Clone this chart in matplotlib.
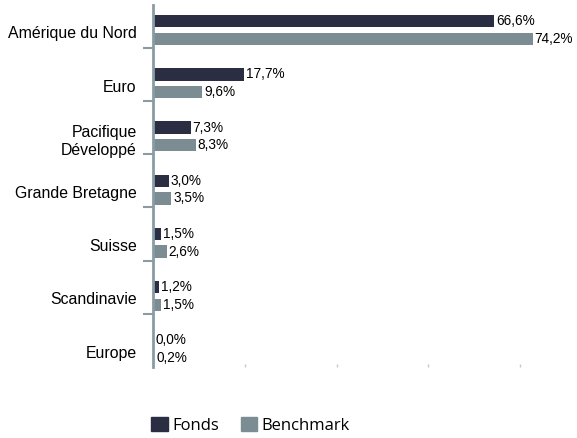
import matplotlib
matplotlib.use("Agg")
import matplotlib.pyplot as plt
from matplotlib.patches import Patch

# data (top to bottom in the picture)
categories = ["Amérique du Nord", "Euro", "Pacifique\nDéveloppé", "Grande Bretagne",
              "Suisse", "Scandinavie", "Europe"]
fonds = [66.6, 17.7, 7.3, 3.0, 1.5, 1.2, 0.0]
benchmark = [74.2, 9.6, 8.3, 3.5, 2.6, 1.5, 0.2]

dark = "#2b2d42"
grey = "#7b8d93"
axis_col = "#8a9ca2"

plt.rcParams["font.family"] = ["Liberation Sans", "DejaVu Sans"]

fig = plt.figure(figsize=(5.77, 4.38), dpi=100)
ax = fig.add_axes([153.3 / 577, 1 - 367 / 438, 0.70, 362 / 438])

n = len(categories)
pos = [n - 1 - i for i in range(n)]
h = 0.235
off = 0.33

ax.barh(pos, fonds, height=h, color=dark)
ax.barh([p - off for p in pos], benchmark, height=h, color=grey)

for p, v in zip(pos, fonds):
    ax.text(v + 0.4, p, f"{v:.1f}%".replace(".", ","), va="center", ha="left", fontsize=9.8)
for p, v in zip(pos, benchmark):
    ax.text(v + 0.4, p - off, f"{v:.1f}%".replace(".", ","), va="center", ha="left", fontsize=9.8)

ax.set_xlim(0, 79)
ax.set_ylim(-0.5, -0.5 + 362 / 53.2)

# category labels, shifted slightly below band centre
ax.set_yticks([p - 0.21 for p in pos])
ax.set_yticklabels(categories, fontsize=11.4)
ax.tick_params(axis="y", length=0, pad=12)
ax.set_yticks([p + 0.5 for p in pos[1:]], minor=True)
ax.tick_params(axis="y", which="minor", length=7, width=1.5, color=axis_col)

ax.set_xticks([17.93 * k for k in range(1, 5)])
ax.set_xticklabels([])
ax.tick_params(axis="x", length=2, direction="in", color="#c8c8c8", width=1)

for s in ["top", "right", "bottom"]:
    ax.spines[s].set_visible(False)
ax.spines["left"].set_color(axis_col)
ax.spines["left"].set_linewidth(2)

handles = [Patch(color=dark, label="Fonds"), Patch(color=grey, label="Benchmark")]
fig.legend(handles=handles, loc="lower left", bbox_to_anchor=(143 / 577, -4 / 438),
           ncol=2, frameon=False, borderpad=0, handlelength=1.0, handleheight=1.0,
           handletextpad=0.25, columnspacing=1.3,
           prop={"family": "Open Sans", "size": 12})

fig.savefig("out.png", dpi=100)
